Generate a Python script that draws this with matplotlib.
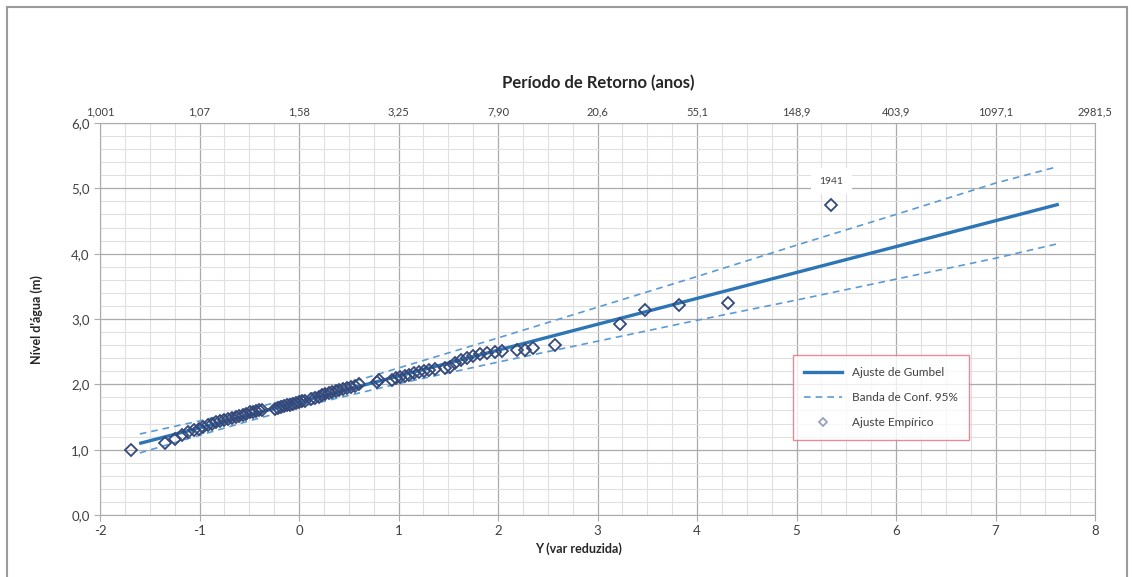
import matplotlib.pyplot as plt
from matplotlib.patches import Rectangle
from matplotlib.ticker import MultipleLocator, FuncFormatter

plt.rcParams['font.family'] = ['Lato', 'DejaVu Sans']

# Gumbel fit line (reduced variate Y -> water level)
fit_y = [-1.59, 7.62]
fit_level = [1.10, 4.75]

# 95% confidence band
band_y = [-1.60, -1.0, -0.5, 0.0, 0.5, 1.0, 2.0, 3.0, 4.0, 5.0, 6.0, 7.0, 7.62]
band_upper = [1.24, 1.44, 1.62, 1.81, 2.02, 2.25, 2.71, 3.18, 3.65, 4.13, 4.60, 5.08, 5.33]
band_lower = [0.95, 1.22, 1.44, 1.65, 1.83, 2.01, 2.34, 2.66, 2.98, 3.29, 3.61, 3.93, 4.15]

# empirical points
emp_y = [-1.69, -1.35, -1.25, -1.18, -1.12, -1.06, -1.01, -0.96, -0.91, -0.87,
         -0.83, -0.79, -0.75, -0.71, -0.67, -0.63, -0.60, -0.56, -0.53, -0.49,
         -0.46, -0.43, -0.40, -0.37, -0.24, -0.21, -0.18, -0.15, -0.12, -0.09,
         -0.06, -0.03, 0.00, 0.03, 0.06, 0.12, 0.16, 0.20, 0.23, 0.26,
         0.30, 0.33, 0.37, 0.40, 0.44, 0.48, 0.52, 0.56, 0.60, 0.78,
         0.80, 0.93, 0.97, 1.02, 1.07, 1.11, 1.16, 1.21, 1.26, 1.31,
         1.37, 1.47, 1.52, 1.57, 1.63, 1.69, 1.75, 1.82, 1.89, 1.97,
         2.04, 2.19, 2.27, 2.35, 2.57, 3.23, 3.48, 3.82, 4.31, 5.35]
emp_level = [0.99, 1.10, 1.17, 1.22, 1.27, 1.30, 1.32, 1.34, 1.37, 1.40,
             1.42, 1.44, 1.45, 1.47, 1.49, 1.50, 1.52, 1.53, 1.55, 1.57,
             1.58, 1.59, 1.60, 1.61, 1.62, 1.64, 1.66, 1.67, 1.68, 1.69,
             1.70, 1.71, 1.73, 1.74, 1.75, 1.77, 1.79, 1.81, 1.83, 1.85,
             1.87, 1.89, 1.90, 1.92, 1.93, 1.95, 1.96, 1.98, 2.00, 2.04,
             2.06, 2.06, 2.09, 2.11, 2.13, 2.15, 2.17, 2.19, 2.21, 2.22,
             2.24, 2.25, 2.26, 2.33, 2.37, 2.40, 2.43, 2.46, 2.48, 2.49,
             2.51, 2.53, 2.53, 2.56, 2.60, 2.93, 3.14, 3.22, 3.25, 4.75]

# return period labels on the top axis
top_ticks = [-2, -1, 0, 1, 2, 3, 4, 5, 6, 7, 8]
top_labels = ['1,001', '1,07', '1,58', '3,25', '7,90', '20,6', '55,1',
              '148,9', '403,9', '1097,1', '2981,5']

W, H = 1132, 577
fig = plt.figure(figsize=(W / 100, H / 100), dpi=100)
ax = fig.add_axes([100 / W, 1 - 515 / H, 995 / W, 392 / H])

ax.set_xlim(-2, 8)
ax.set_ylim(0, 6)
ax.xaxis.set_major_locator(MultipleLocator(1))
ax.xaxis.set_minor_locator(MultipleLocator(0.25))
ax.yaxis.set_major_locator(MultipleLocator(1))
ax.yaxis.set_minor_locator(MultipleLocator(0.2))
ax.xaxis.set_major_formatter(FuncFormatter(lambda v, p: '%d' % v))
ax.yaxis.set_major_formatter(FuncFormatter(lambda v, p: ('%.1f' % v).replace('.', ',')))
ax.grid(which='major', color='#ababab', lw=0.9)
ax.grid(which='minor', color='#e0e0e0', lw=0.8)
ax.set_axisbelow(True)
for s in ax.spines.values():
    s.set_color('#ababab')
ax.tick_params(which='major', length=4, color='#ababab', labelsize=9.5,
               labelcolor='#404040')
ax.tick_params(which='minor', length=0)

ax.plot(fit_y, fit_level, color='#2e75b6', lw=2.4, label='Ajuste de Gumbel', zorder=3)
ax.plot(band_y, band_upper, color='#5b9bd5', lw=1.2, ls=(0, (4, 3)),
        label='Banda de Conf. 95%', zorder=3)
ax.plot(band_y, band_lower, color='#5b9bd5', lw=1.2, ls=(0, (4, 3)), zorder=3)
ax.plot(emp_y, emp_level, ls='none', marker='D', ms=6, mfc='none',
        mec='#34497a', mew=1.3, label='Ajuste Empírico', zorder=4)

ax.annotate('1941', (emp_y[-1], emp_level[-1]), xytext=(0, 17),
            textcoords='offset points', ha='center', va='center', fontsize=7.5,
            color='#404040',
            bbox=dict(boxstyle='square,pad=0.8', fc='white', ec='none'))

sec = ax.secondary_xaxis('top')
sec.set_xticks(top_ticks, labels=top_labels)
sec.tick_params(length=0, pad=4, labelsize=8, labelcolor='#404040')
sec.spines['top'].set_visible(False)

leg = ax.legend(loc='upper left', bbox_to_anchor=(0.696, 0.408), fontsize=8.5,
                frameon=True, fancybox=False, edgecolor='#e0707f',
                borderpad=1.0, labelspacing=1.2, handlelength=3.2,
                borderaxespad=0)
leg.get_frame().set_linewidth(1.0)
leg.legend_handles[2].set_markersize(4)
leg.legend_handles[2].set_markeredgecolor('#9aa3bd')
for t in leg.get_texts():
    t.set_color('#404040')

fig.text(598 / W, 1 - 83 / H, 'Período de Retorno (anos)', ha='center',
         va='center', fontsize=12, fontweight='bold', color='#262626')
fig.text(578 / W, 1 - 549 / H, 'Y (var reduzida)', ha='center', va='center',
         fontsize=9, fontweight='bold', color='#262626')
fig.text(37 / W, 1 - 320 / H, "Nível d'água (m)", ha='center', va='center',
         rotation=90, fontsize=9, fontweight='bold', color='#262626')

fig.patches.append(Rectangle((7 / W, -0.02), 1120 / W, 1 - 7 / H + 0.02,
                             transform=fig.transFigure, fill=False,
                             edgecolor='#9a9a9a', lw=1.5))

fig.savefig('out.png', dpi=100)
